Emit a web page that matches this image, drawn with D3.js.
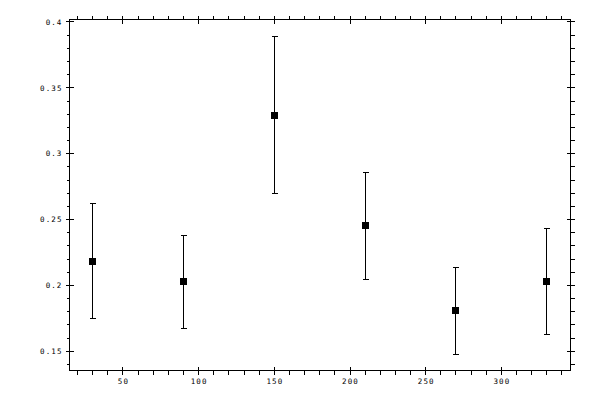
<!DOCTYPE html>
<html>
<head>
<meta charset="utf-8">
<script src="https://cdn.jsdelivr.net/npm/d3@7"></script>
<style>
  body { margin: 0; background: #fff; }
  .tick text { font-family: "DejaVu Sans Mono", monospace; font-size: 7.5px; letter-spacing: 1.1px; fill: #000; -webkit-font-smoothing: none; }
  .axis path.domain { display: none; }
  .axis line { stroke: #000; }
</style>
</head>
<body>
<div class="canvas"></div>
<script>
// measured values, one per point
const xValues = [30, 90, 150, 210, 270, 330];
const yValues = [0.2182, 0.2030, 0.3291, 0.2455, 0.1809, 0.2030];
const yLower = [0.1748, 0.1675, 0.2698, 0.2045, 0.1475, 0.1629];
const yUpper = [0.2622, 0.2381, 0.3891, 0.2858, 0.2133, 0.2432];

const xTicks = [50, 100, 150, 200, 250, 300];
const yTicks = [0.15, 0.2, 0.25, 0.3, 0.35, 0.4];
const yTickLabels = ['0.15', '0.2', '0.25', '0.3', '0.35', '0.4'];

const dims = { width: 600, height: 400 };
const box = { left: 69, right: 570, top: 19, bottom: 370 };

const svg = d3.select('.canvas')
    .append('svg')
    .attr('width', dims.width)
    .attr('height', dims.height)
    .style('display', 'block')
;

const x = d3.scaleLinear().domain([15, 346]).range([box.left + 0.5, box.right + 0.5]);
const y = d3.scaleLinear().domain([0.135, 0.4015]).range([box.bottom + 0.5, box.top + 0.5]);

const xMinor = d3.range(20, 341, 10).filter(v => v % 50 !== 0);
const yMinor = d3.range(14, 41).map(v => v / 100).filter(v => Math.round(v * 100) % 5 !== 0);

const axes = svg.append('g').attr('shape-rendering', 'crispEdges');

// bottom & top
const addX = (gen, yPos, size, labels) => {
    const g = axes.append('g')
        .attr('class', 'axis')
        .attr('transform', `translate(0, ${yPos})`)
        .call(gen.tickSize(size).tickSizeOuter(0));
    if (!labels) g.selectAll('text').remove();
    return g;
};

addX(d3.axisBottom(x).tickValues(xMinor), box.bottom + 0.5, 4, false);
addX(d3.axisBottom(x).tickValues(xTicks), box.bottom + 0.5, -4, false);
const bottomLabels = addX(d3.axisBottom(x).tickValues(xTicks).tickFormat(d3.format('d')), box.bottom + 0.5, 4, true);
bottomLabels.selectAll('text')
    .attr('y', 13.5)
    .attr('dy', null)
    .attr('dx', '0.5px')
;

addX(d3.axisTop(x).tickValues(xMinor), box.top + 0.5, 4, false);
addX(d3.axisTop(x).tickValues(xTicks), box.top + 0.5, 4, false);
addX(d3.axisTop(x).tickValues(xTicks), box.top + 0.5, -4, false);

// left & right
const addY = (gen, xPos, size, labels) => {
    const g = axes.append('g')
        .attr('class', 'axis')
        .attr('transform', `translate(${xPos}, 0)`)
        .call(gen.tickSize(size).tickSizeOuter(0));
    if (!labels) g.selectAll('text').remove();
    return g;
};

addY(d3.axisLeft(y).tickValues(yMinor), box.left + 0.5, 3, false);
addY(d3.axisLeft(y).tickValues(yTicks), box.left + 0.5, -4, false);
const leftLabels = addY(d3.axisLeft(y).tickValues(yTicks).tickFormat((d, i) => yTickLabels[i]), box.left + 0.5, 4, true);
leftLabels.selectAll('text')
    .attr('x', -7)
    .attr('dy', null)
    .attr('y', 2.8)
;

addY(d3.axisRight(y).tickValues(yMinor), box.right + 0.5, 4, false);
addY(d3.axisRight(y).tickValues(yTicks), box.right + 0.5, 4, false);
addY(d3.axisRight(y).tickValues(yTicks), box.right + 0.5, -4, false);

// frame
axes.append('rect')
    .attr('x', box.left + 0.5)
    .attr('y', box.top + 0.5)
    .attr('width', box.right - box.left)
    .attr('height', box.bottom - box.top)
    .attr('fill', 'none')
    .attr('stroke', '#000')
;

// points with error bars
const data = xValues.map((v, i) => ({ x: v, y: yValues[i], lo: yLower[i], hi: yUpper[i] }));

const marks = svg.append('g').attr('shape-rendering', 'crispEdges');

const pts = marks.selectAll('g.pt')
    .data(data)
    .enter()
    .append('g')
    .attr('class', 'pt')
;

pts.append('line')
    .attr('x1', d => Math.round(x(d.x)) + 0.5)
    .attr('x2', d => Math.round(x(d.x)) + 0.5)
    .attr('y1', d => Math.round(y(d.hi)) + 0.5)
    .attr('y2', d => Math.round(y(d.lo)) + 0.5)
    .attr('stroke', '#000')
;

[d => d.hi, d => d.lo].forEach(acc => {
    pts.append('line')
        .attr('x1', d => Math.round(x(d.x)) - 2.5)
        .attr('x2', d => Math.round(x(d.x)) + 3.5)
        .attr('y1', d => Math.round(y(acc(d))) + 0.5)
        .attr('y2', d => Math.round(y(acc(d))) + 0.5)
        .attr('stroke', '#000')
    ;
});

pts.append('rect')
    .attr('x', d => Math.round(x(d.x)) - 3)
    .attr('y', d => Math.round(y(d.y)) - 3)
    .attr('width', 7)
    .attr('height', 7)
    .attr('fill', '#000')
;
</script>
</body>
</html>
